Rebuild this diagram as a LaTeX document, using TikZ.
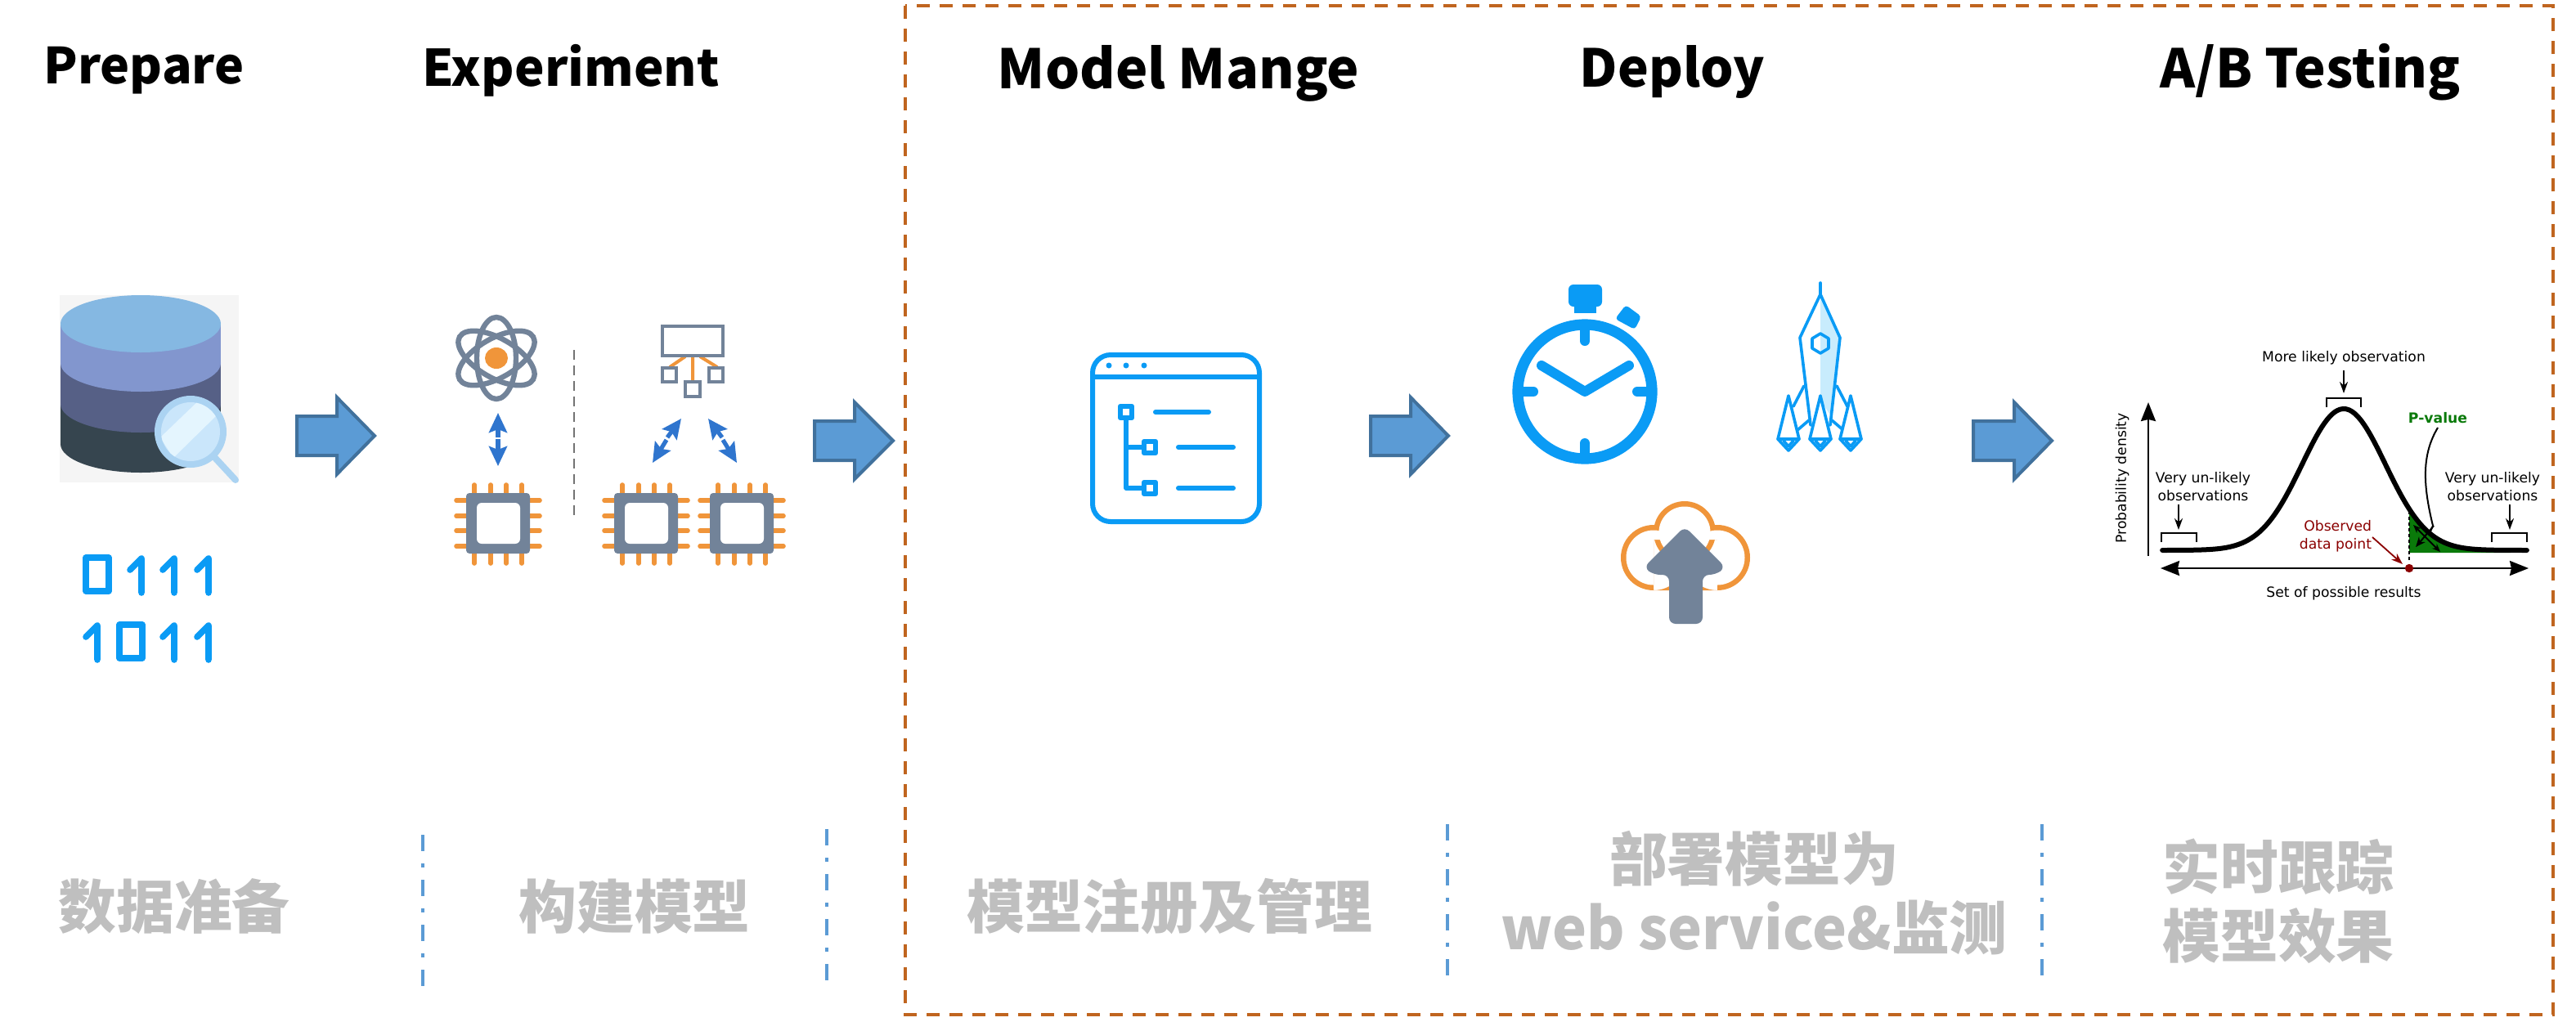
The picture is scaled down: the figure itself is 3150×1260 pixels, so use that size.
\documentclass[tikz,border=0pt]{standalone}
\usepackage{fontspec}
\usetikzlibrary{arrows.meta}
\newfontfamily\cjkfont{Noto Sans CJK SC}
\newfontfamily\djvfont{DejaVu Sans}
\definecolor{brownline}{HTML}{C0651F}
\definecolor{arrowfill}{HTML}{5B9BD5}
\definecolor{arrowedge}{HTML}{41719C}
\definecolor{iconblue}{HTML}{0A9BF5}
\definecolor{slategray}{HTML}{728399}
\definecolor{iconorange}{HTML}{F0953A}
\definecolor{arrowblue}{HTML}{2F75CE}
\definecolor{labelgray}{HTML}{BFBFBF}
\definecolor{darkred}{HTML}{8B0000}
\definecolor{pgreen}{HTML}{0A7A0A}
\tikzset{
  titletext/.style={font=\cjkfont\bfseries\fontsize{#1}{36}\selectfont,text=black,inner sep=0pt},
  graytext/.style={font=\cjkfont\bfseries\fontsize{35.4}{42}\selectfont,text=labelgray,inner sep=0pt,align=center},
  smalltext/.style={font=\djvfont\fontsize{8.6}{11}\selectfont,text=black,inner sep=0pt,align=center},
  blockarrow/.style={fill=arrowfill,draw=arrowedge,line width=2pt,miter limit=10},
  bluedash/.style={draw=arrowfill,line width=2pt,dash pattern=on 10pt off 7.5pt on 2.5pt off 7.5pt},
  iconline/.style={draw=iconblue,line width=3pt,line cap=round,line join=round},
  rocketline/.style={draw=iconblue,line width=1.8pt,line join=round,line cap=round},
  grayline/.style={draw=slategray,line width=2.4pt},
  pin/.style={draw=iconorange,line width=2.8pt,line cap=round},
  blueptr/.style={draw=arrowblue,line width=2.6pt,-{Stealth[length=12pt,width=11pt,inset=2pt]}},
  thinblack/.style={draw=black,line width=1pt},
  smallptr/.style={draw=black,line width=1pt,-{Stealth[length=7pt,width=5pt]}},
  bigtip/.style={draw=black,line width=1.2pt}
}
\newcommand{\barrow}[4]{\draw[blockarrow] (#1+2,#4-24) -- (#2+2,#4-24) -- (#2+2,#4-47) -- (#3-4,#4) -- (#2+2,#4+47) -- (#2+2,#4+24) -- (#1+2,#4+24) -- cycle;}
\newcommand{\chipicon}[1]{%
  \foreach \d in {-29,-9,10,29}{
    \draw[pin] (#1+\d,593) -- (#1+\d,689);
  }
  \foreach \e in {612,631,649,668}{
    \draw[pin] (#1-51,\e) -- (#1+51,\e);
  }
  \fill[slategray,rounded corners=2pt] (#1-39,603) rectangle (#1+39,677);
  \fill[white,rounded corners=3pt] (#1-26,615) rectangle (#1+27,665);
}
\newcommand{\binzero}[2]{\draw[iconline,line width=3.6pt] (#1,#2) rectangle (#1+28,#2+41);}
\newcommand{\binone}[2]{\draw[iconline,line width=3.8pt] (#1-14,#2+17) -- (#1,#2+3) -- (#1,#2+45);}
\newcommand{\enginekite}[1]{%
  \draw[rocketline,fill=white] (#1,484) -- (#1-13,537) -- (#1,551) -- (#1+13,537) -- cycle;
  \draw[rocketline] (#1-13,537) -- (#1+13,537) (#1-6,539) -- (#1,546) -- (#1+6,539);
}
\begin{document}
\begin{tikzpicture}[x=0.5pt,y=-0.5pt]
\useasboundingbox (0,0) rectangle (3150,1260);
\fill[white] (0,0) rectangle (3150,1260);

% Frame
\draw[brownline,line width=2pt,dash pattern=on 8pt off 6pt] (1107,7) rectangle (3122,1241);

% Titles
\node[titletext=30.4] (t1) at (176,86) {Prepare};
\node[titletext=30.8] (t2) at (698,86) {Experiment};
\node[titletext=33.2] (t3) at (1441,90) {Model Mange};
\node[titletext=31.9] (t4) at (2045,88) {Deploy};
\node[titletext=32.6] (t5) at (2825,88) {A/B Testing};

% Bottom labels
\node[graytext] (b1) at (213,1109) {数据准备};
\node[graytext] (b2) at (776,1109) {构建模型};
\node[graytext] (b3) at (1430,1109) {模型注册及管理};
\node[graytext] (b4) at (2145,1092) {部署模型为\\web service\&监测};
\node[graytext] (b5) at (2786,1102) {实时跟踪\\模型效果};

% Blue dash-dot dividers
\draw[bluedash] (517,1021) -- (517,1207);
\draw[bluedash] (1011,1014) -- (1011,1199);
\draw[bluedash] (1770,1008) -- (1770,1193);
\draw[bluedash] (2497,1008) -- (2497,1193);

% Block arrows
\barrow{361}{410}{462}{533}
\barrow{994}{1043}{1096}{539}
\barrow{1674}{1723}{1775}{533}
\barrow{2411}{2461}{2513}{539}

% Database icon
\fill[black!4] (73,361) rectangle (292,590);
\definecolor{layerA}{HTML}{36454F}
\definecolor{layerB}{HTML}{566086}
\definecolor{layerC}{HTML}{8296CE}
\definecolor{layerD}{HTML}{85B8E2}
\fill[layerA] (74,396) rectangle (270,543);
\fill[layerA] (172,543) ellipse [x radius=98,y radius=35];
\fill[layerB] (74,396) rectangle (270,494);
\fill[layerB] (172,494) ellipse [x radius=98,y radius=35];
\fill[layerC] (74,396) rectangle (270,444);
\fill[layerC] (172,444) ellipse [x radius=98,y radius=35];
\fill[layerD] (172,396) ellipse [x radius=98,y radius=35];
% Magnifier
\definecolor{lensring}{HTML}{ABD3F2}
\definecolor{lensfill}{HTML}{CAE6FB}
\definecolor{lensband}{HTML}{E4F5FE}
\draw[lensring,line width=4pt,line cap=round] (263,560) -- (288,587);
\fill[lensring] (233,528) circle (44);
\fill[lensfill] (233,528) circle (36);
\begin{scope}
  \clip (233,528) circle (36);
  \fill[lensband] (196,535) -- (245,488) -- (268,505) -- (212,560) -- cycle;
\end{scope}

% Binary icon
\binzero{105}{682}
\binone{173}{680}
\binone{213}{680}
\binone{255}{680}
\binone{119}{762}
\binzero{146}{764}
\binone{213}{762}
\binone{255}{762}

% Atom
\begin{scope}[grayline,line width=3.2pt]
  \draw (607,438) ellipse [x radius=24,y radius=50];
  \draw[rotate around={60:(607,438)}] (607,438) ellipse [x radius=24,y radius=52];
  \draw[rotate around={-60:(607,438)}] (607,438) ellipse [x radius=24,y radius=52];
\end{scope}
\fill[iconorange] (607,438) ellipse [x radius=14,y radius=13];

% Dashed separator
\draw[black!55,line width=1.4pt,dash pattern=on 6pt off 3.5pt] (702,428) -- (702,630);

% Double arrows under atom / chips
\draw[blueptr] (609,535) -- (609,505);
\draw[blueptr] (609,537) -- (609,570);
\draw[blueptr] (816,535) -- (833,512);
\draw[blueptr] (815,538) -- (798,566);
\draw[blueptr] (883,535) -- (866,512);
\draw[blueptr] (884,538) -- (901,566);

% Split icon
\draw[iconorange,line width=2pt] (847,436) -- (847,466) (838,436) -- (819,449) (856,436) -- (877,449);
\draw[grayline,fill=white] (810,399) rectangle (884,435);
\draw[grayline,fill=white] (810,450) rectangle (827,467);
\draw[grayline,fill=white] (867,450) rectangle (884,467);
\draw[grayline,fill=white] (838,467) rectangle (856,485);

% Chips
\chipicon{609}
\chipicon{790}
\chipicon{907}

% Window/tree icon
\draw[iconline,rounded corners=11pt] (1336,434) rectangle (1540,638);
\draw[iconline,line cap=butt] (1336,461) -- (1540,461);
\fill[iconblue] (1356,447) circle (3.5) (1377,447) circle (3.5) (1399,447) circle (3.5);
\draw[iconline,line width=2.6pt] (1377,510) -- (1377,597) -- (1400,597) (1377,547) -- (1400,547);
\draw[iconline,line width=3.2pt,fill=white] (1370,497) rectangle (1384,511);
\draw[iconline,line width=3.2pt,fill=white] (1399,540) rectangle (1413,554);
\draw[iconline,line width=3.2pt,fill=white] (1399,590) rectangle (1413,604);
\draw[iconline] (1413,504) -- (1478,504);
\draw[iconline] (1441,547) -- (1508,547);
\draw[iconline] (1441,597) -- (1508,597);

% Stopwatch
\draw[iconblue,line width=6.6pt] (1938,479) circle (82);
\draw[iconline,line width=6pt] (1938,405) -- (1938,417) (1938,553) -- (1938,542) (1864,479) -- (1875,479) (2012,479) -- (2002,479);
\draw[iconline,line width=6pt] (1885,447) -- (1938,479) -- (1992,447);
\fill[iconblue,rounded corners=3pt] (1918,348) rectangle (1959,375);
\fill[iconblue] (1925,370) rectangle (1952,383);
\fill[iconblue,rounded corners=2pt] (1988,373) -- (2007,387) -- (1999,403) -- (1975,390) -- cycle;

% Rocket
\definecolor{rocketfill}{HTML}{C8ECFD}
\fill[rocketfill] (2226,362) -- (2250,413) -- (2240,510) -- (2226,490) -- cycle;
\draw[rocketline] (2226,346) -- (2226,360);
\draw[rocketline] (2226,360) -- (2201,413) -- (2214,520) (2226,360) -- (2250,413) -- (2238,520);
\draw[rocketline] (2226,420) ++(0,-12) -- ++(10,6) -- ++(0,12) -- ++(-10,6) -- ++(-10,-6) -- ++(0,-12) -- cycle;
\draw[rocketline] (2206,472) -- (2193,497) (2198,526) -- (2212,514);
\draw[rocketline] (2246,472) -- (2259,497) (2254,526) -- (2240,514);
\enginekite{2187}
\enginekite{2226}
\enginekite{2263}

% Cloud
\fill[iconorange] (2022,682) circle (40) (2100,682) circle (40) (2060,651) circle (38) (2022,660) rectangle (2100,722);
\fill[white] (2022,682) circle (33.5) (2100,682) circle (33.5) (2060,651) circle (31.5) (2022,660) rectangle (2100,715.5);
\fill[slategray,rounded corners=4pt] (2060,644) -- (2110,694) -- (2098,703) -- (2082,703) -- (2082,763) -- (2041,763) -- (2041,703) -- (2022,703) -- (2010,694) -- cycle;

% Bell curve
\fill[pgreen] plot[domain=1.57:4,samples=40] ({2866+51*\x},{673-173*exp(-0.5*\x*\x)}) -- (3070,676) -- (2946,676) -- cycle;
\draw[black,line width=3pt,line cap=round] plot[domain=-4.35:4.39,samples=120,smooth] ({2866+51*\x},{673-173*exp(-0.5*\x*\x)});
\draw[black,line width=1.4pt,dash pattern=on 2pt off 1.5pt] (2946,618) -- (2946,687);

% Axes
\draw[bigtip,-{Stealth[length=11.5pt,width=9pt,inset=1pt]}] (2627,680) -- (2627,492);
\draw[bigtip,{Stealth[length=11.5pt,width=9pt,inset=1pt]}-{Stealth[length=11.5pt,width=9pt,inset=1pt]}] (2642,695) -- (3092,695);
\fill[darkred] (2946,695) circle (5.2);

% Brackets and pointers
\draw[thinblack] (2845,498) -- (2845,487) -- (2887,487) -- (2887,498);
\draw[thinblack] (2643,663) -- (2643,652) -- (2686,652) -- (2686,663);
\draw[thinblack] (3047,663) -- (3047,652) -- (3090,652) -- (3090,663);
\draw[smallptr] (2866,453) -- (2866,481);
\draw[smallptr] (2664,617) -- (2664,648);
\draw[smallptr] (3069,617) -- (3069,648);

% Text labels of the plot
\node[smalltext] (pd) at (2595,585) [rotate=90] {Probability density};
\node[smalltext] (ml) at (2866,438) {More likely observation};
\node[smalltext] (vl) at (2694,595) {Very un-likely\\observations};
\node[smalltext] (vr) at (3048,595) {Very un-likely\\observations};
\node[smalltext] (sr) at (2866,726) {Set of possible results};
\node[smalltext,text=darkred,align=right] (od) at (2856,656) {Observed\\data point};
\node[smalltext,text=pgreen,font=\djvfont\bfseries\fontsize{8.6}{11}\selectfont] (pv) at (2981,511) {P-value};
\coordinate (obsa) at (2901,657);
\coordinate (obsb) at (2938,690);
\draw[draw=darkred,line width=0.9pt,-{Stealth[length=7pt,width=5pt]}] (obsa) -- (obsb);
\draw[thinblack] (2981,523) .. controls (2962,555) and (2962,590) .. (2975,643) -- (2972,650);
\draw[smallptr,{Stealth[length=5pt,width=4pt]}-{Stealth[length=5pt,width=4pt]}] (2951,642) -- (2984,675);
\draw[smallptr,-{Stealth[length=6pt,width=5pt]}] (2976,643) -- (2954,669);
\end{tikzpicture}
\end{document}
